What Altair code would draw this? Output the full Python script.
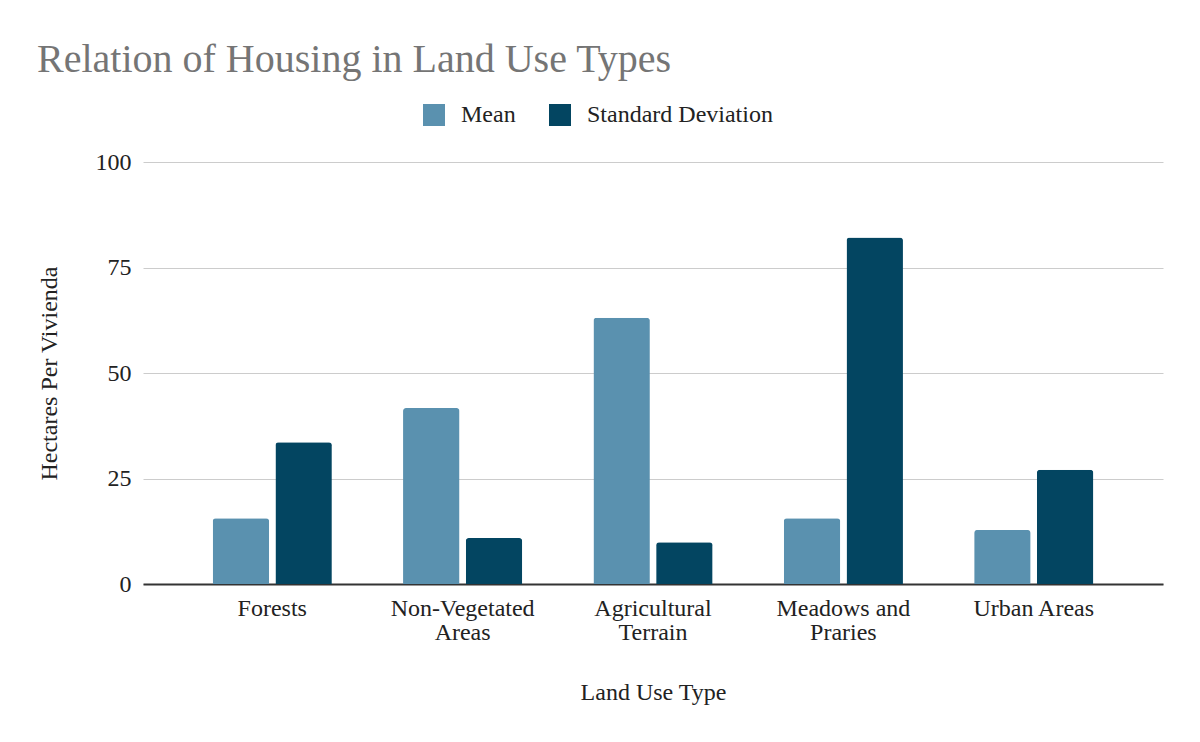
import altair as alt
import pandas as pd

categories = ["Forests", "Non-Vegetated Areas", "Agricultural Terrain", "Meadows and Praries", "Urban Areas"]
mean_vals = [15.6, 41.7, 63.1, 15.6, 12.8]
sd_vals = [33.6, 10.9, 9.9, 82.1, 27.1]
series = ["Mean", "Standard Deviation"]
colors = ["#5a91af", "#034561"]

rows = []
for c, m, s in zip(categories, mean_vals, sd_vals):
    rows.append({"category": c, "series": series[0], "value": m})
    rows.append({"category": c, "series": series[1], "value": s})
df = pd.DataFrame(rows)

FONT = "Liberation Serif"

label_expr = (
    "datum.label == 'Non-Vegetated Areas' ? ['Non-Vegetated', 'Areas'] : "
    "datum.label == 'Agricultural Terrain' ? ['Agricultural', 'Terrain'] : "
    "datum.label == 'Meadows and Praries' ? ['Meadows and', 'Praries'] : datum.label"
)

chart = alt.Chart(df).mark_bar(cornerRadiusTopLeft=3, cornerRadiusTopRight=3).encode(
    x=alt.X("category:N", sort=categories, title="Land Use Type",
            scale=alt.Scale(paddingInner=0.374, paddingOuter=0.366),
            axis=alt.Axis(labelAngle=0, labelExpr=label_expr, ticks=False,
                          labelPadding=12, labelLineHeight=24, titlePadding=36,
                          domainColor="#333333", domainWidth=2, grid=False)),
    xOffset=alt.XOffset("series:N", sort=series, scale=alt.Scale(paddingInner=0.1)),
    y=alt.Y("value:Q", title="Hectares Per Vivienda",
            scale=alt.Scale(domain=[0, 100]),
            axis=alt.Axis(values=[0, 25, 50, 75, 100], ticks=False, domain=False,
                          labelPadding=12, titlePadding=34, gridColor="#cccccc")),
    color=alt.Color("series:N", sort=series,
                    scale=alt.Scale(domain=series, range=colors),
                    legend=alt.Legend(title=None, orient="none", direction="horizontal",
                                      legendX=279, legendY=-59, symbolType="square",
                                      symbolSize=484, symbolStrokeWidth=0,
                                      labelFontSize=24, labelFont=FONT, labelColor="#222222",
                                      labelLimit=0, columnPadding=32, labelOffset=15)),
).properties(
    width=1020, height=422,
    padding={"left": 29, "top": 32, "right": 5, "bottom": 5},
    title=alt.TitleParams("Relation of Housing in Land Use Types", anchor="start", frame="bounds",
                          font=FONT, fontSize=40, fontWeight="normal", color="#757575", offset=23),
    background="white",
).configure_axis(
    labelFont=FONT, titleFont=FONT, labelFontSize=24, titleFontSize=24,
    labelColor="#222222", titleColor="#222222", titleFontWeight="normal",
).configure_view(stroke=None)

chart.save("out.html", embed_options={"renderer": "svg", "actions": False})
